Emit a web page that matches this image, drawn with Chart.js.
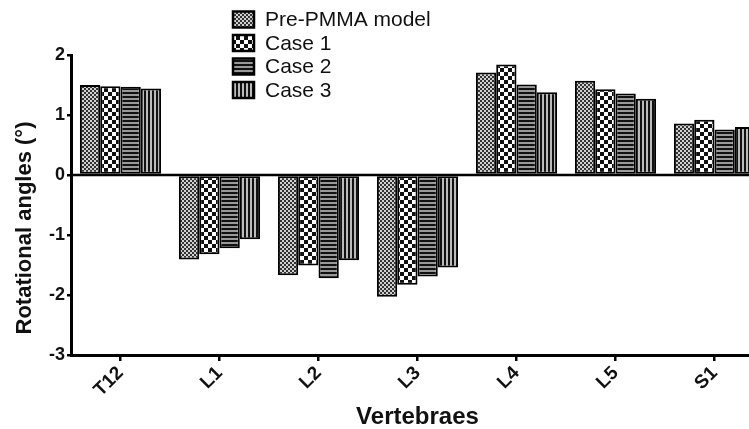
<!DOCTYPE html>
<html>
<head>
<meta charset="utf-8">
<script src="https://cdn.jsdelivr.net/npm/chart.js@4.4.1/dist/chart.umd.min.js"></script>
<style>
    html, body { margin: 0; padding: 0; background: #fff; overflow: hidden; }
    #wrap { width: 770px; height: 429px; position: relative; }
</style>
</head>
<body>
<div id="wrap"><canvas id="chart"></canvas></div>
<script>
// Data
const categories = ['T12', 'L1', 'L2', 'L3', 'L4', 'L5', 'S1'];
const seriesNames = ['Pre-PMMA model', 'Case 1', 'Case 2', 'Case 3'];
const prePmma = [1.50, -1.41, -1.67, -2.03, 1.71, 1.57, 0.86];
const case1 = [1.48, -1.32, -1.51, -1.83, 1.84, 1.43, 0.92];
const case2 = [1.47, -1.22, -1.72, -1.69, 1.51, 1.36, 0.76];
const case3 = [1.44, -1.07, -1.42, -1.54, 1.38, 1.27, 0.80];
const yTicks = [-3, -2, -1, 0, 1, 2];

const FONT = '"Liberation Sans", Arial, sans-serif';

/**
 * Small canvas patterns for the black & white fills
 */
function makePattern(kind) {
    const c = document.createElement('canvas');
    const g = c.getContext('2d');
    if (kind === 'fine') {
        c.width = 4; c.height = 4;
        g.fillStyle = '#d0d0d0'; g.fillRect(0, 0, 4, 4);
        g.fillStyle = '#333';
        g.fillRect(0, 0, 2, 2); g.fillRect(2, 2, 2, 2);
    } else if (kind === 'checker') {
        c.width = 8; c.height = 8;
        g.fillStyle = '#fff'; g.fillRect(0, 0, 8, 8);
        g.fillStyle = '#111';
        g.fillRect(0, 0, 4, 4); g.fillRect(4, 4, 4, 4);
    } else if (kind === 'hstripe') {
        c.width = 4; c.height = 4;
        g.fillStyle = '#999'; g.fillRect(0, 0, 4, 4);
        g.fillStyle = '#111'; g.fillRect(0, 0, 4, 2);
    } else {
        c.width = 4; c.height = 4;
        g.fillStyle = '#bbb'; g.fillRect(0, 0, 4, 4);
        g.fillStyle = '#111'; g.fillRect(0, 0, 2, 4);
    }
    return g.createPattern(c, 'repeat');
}

const patterns = [makePattern('fine'), makePattern('checker'), makePattern('hstripe'), makePattern('vstripe')];
const seriesValues = [prePmma, case1, case2, case3];

// Legend drawn in the upper middle of the plot, like the reference
const patternLegend = {
    id: 'patternLegend',
    afterDraw(chart) {
        const ctx = chart.ctx;
        ctx.save();
        ctx.font = '21px ' + FONT;
        ctx.textBaseline = 'middle';
        seriesNames.forEach((name, i) => {
            const cy = 19.5 + i * 23.5;
            ctx.fillStyle = patterns[i];
            ctx.fillRect(233, cy - 8, 21, 16);
            ctx.lineWidth = 2.5;
            ctx.strokeStyle = '#000';
            ctx.strokeRect(233, cy - 8, 21, 16);
            ctx.fillStyle = '#111';
            ctx.fillText(name, 265, cy + 1);
        });
        ctx.restore();
    }
};

// Zero line over the bars, and the y title (sits a bit below the axis middle)
const extras = {
    id: 'extras',
    afterDatasetsDraw(chart) {
        const { ctx, chartArea, scales } = chart;
        const y = scales.y.getPixelForValue(0);
        ctx.save();
        ctx.strokeStyle = '#000';
        ctx.lineWidth = 2.5;
        ctx.beginPath();
        ctx.moveTo(chartArea.left, y);
        ctx.lineTo(chartArea.right, y);
        ctx.stroke();
        ctx.restore();
    },
    afterDraw(chart) {
        const ctx = chart.ctx;
        ctx.save();
        ctx.translate(25, 228);
        ctx.rotate(-Math.PI / 2);
        ctx.font = 'bold 22px ' + FONT;
        ctx.fillStyle = '#111';
        ctx.textAlign = 'center';
        ctx.textBaseline = 'middle';
        ctx.fillText('Rotational angles (°)', 0, 0);
        ctx.restore();
    }
};

new Chart(document.getElementById('chart'), {
    type: 'bar',
    data: {
        labels: categories,
        datasets: seriesNames.map((name, i) => ({
            label: name,
            data: seriesValues[i],
            backgroundColor: patterns[i],
            borderColor: '#000',
            borderWidth: 2,
            borderSkipped: false,
            barPercentage: 1,
            categoryPercentage: 0.82
        }))
    },
    options: {
        responsive: true,
        maintainAspectRatio: false,
        animation: false,
        layout: { padding: { top: 55, right: 6, bottom: 0, left: 0 } },
        plugins: {
            legend: { display: false },
            tooltip: { enabled: false }
        },
        scales: {
            x: {
                grid: {
                    display: true,
                    drawOnChartArea: false,
                    offset: false,
                    tickColor: '#000',
                    tickLength: 6,
                    lineWidth: 2.5
                },
                border: { display: true, color: '#000', width: 3 },
                ticks: {
                    color: '#111',
                    font: { family: FONT, size: 19, weight: 'bold' },
                    minRotation: 45,
                    maxRotation: 45,
                    padding: 1
                },
                title: {
                    display: true,
                    text: 'Vertebraes',
                    color: '#111',
                    font: { family: FONT, size: 24, weight: 'bold', lineHeight: 1 },
                    padding: { top: 0, bottom: 0 }
                },
                afterFit(scale) { scale.height = 74; }
            },
            y: {
                min: -3,
                max: 2,
                afterBuildTicks(scale) { scale.ticks = yTicks.map(v => ({ value: v })); },
                grid: {
                    drawOnChartArea: false,
                    tickColor: '#000',
                    tickLength: 4,
                    lineWidth: 2.5
                },
                border: { display: true, color: '#000', width: 3 },
                ticks: {
                    color: '#111',
                    font: { family: FONT, size: 18, weight: 'bold' },
                    padding: 2
                },
                title: { display: false },
                afterFit(scale) { scale.width = 71; }
            }
        }
    },
    plugins: [extras, patternLegend]
});
</script>
</body>
</html>
